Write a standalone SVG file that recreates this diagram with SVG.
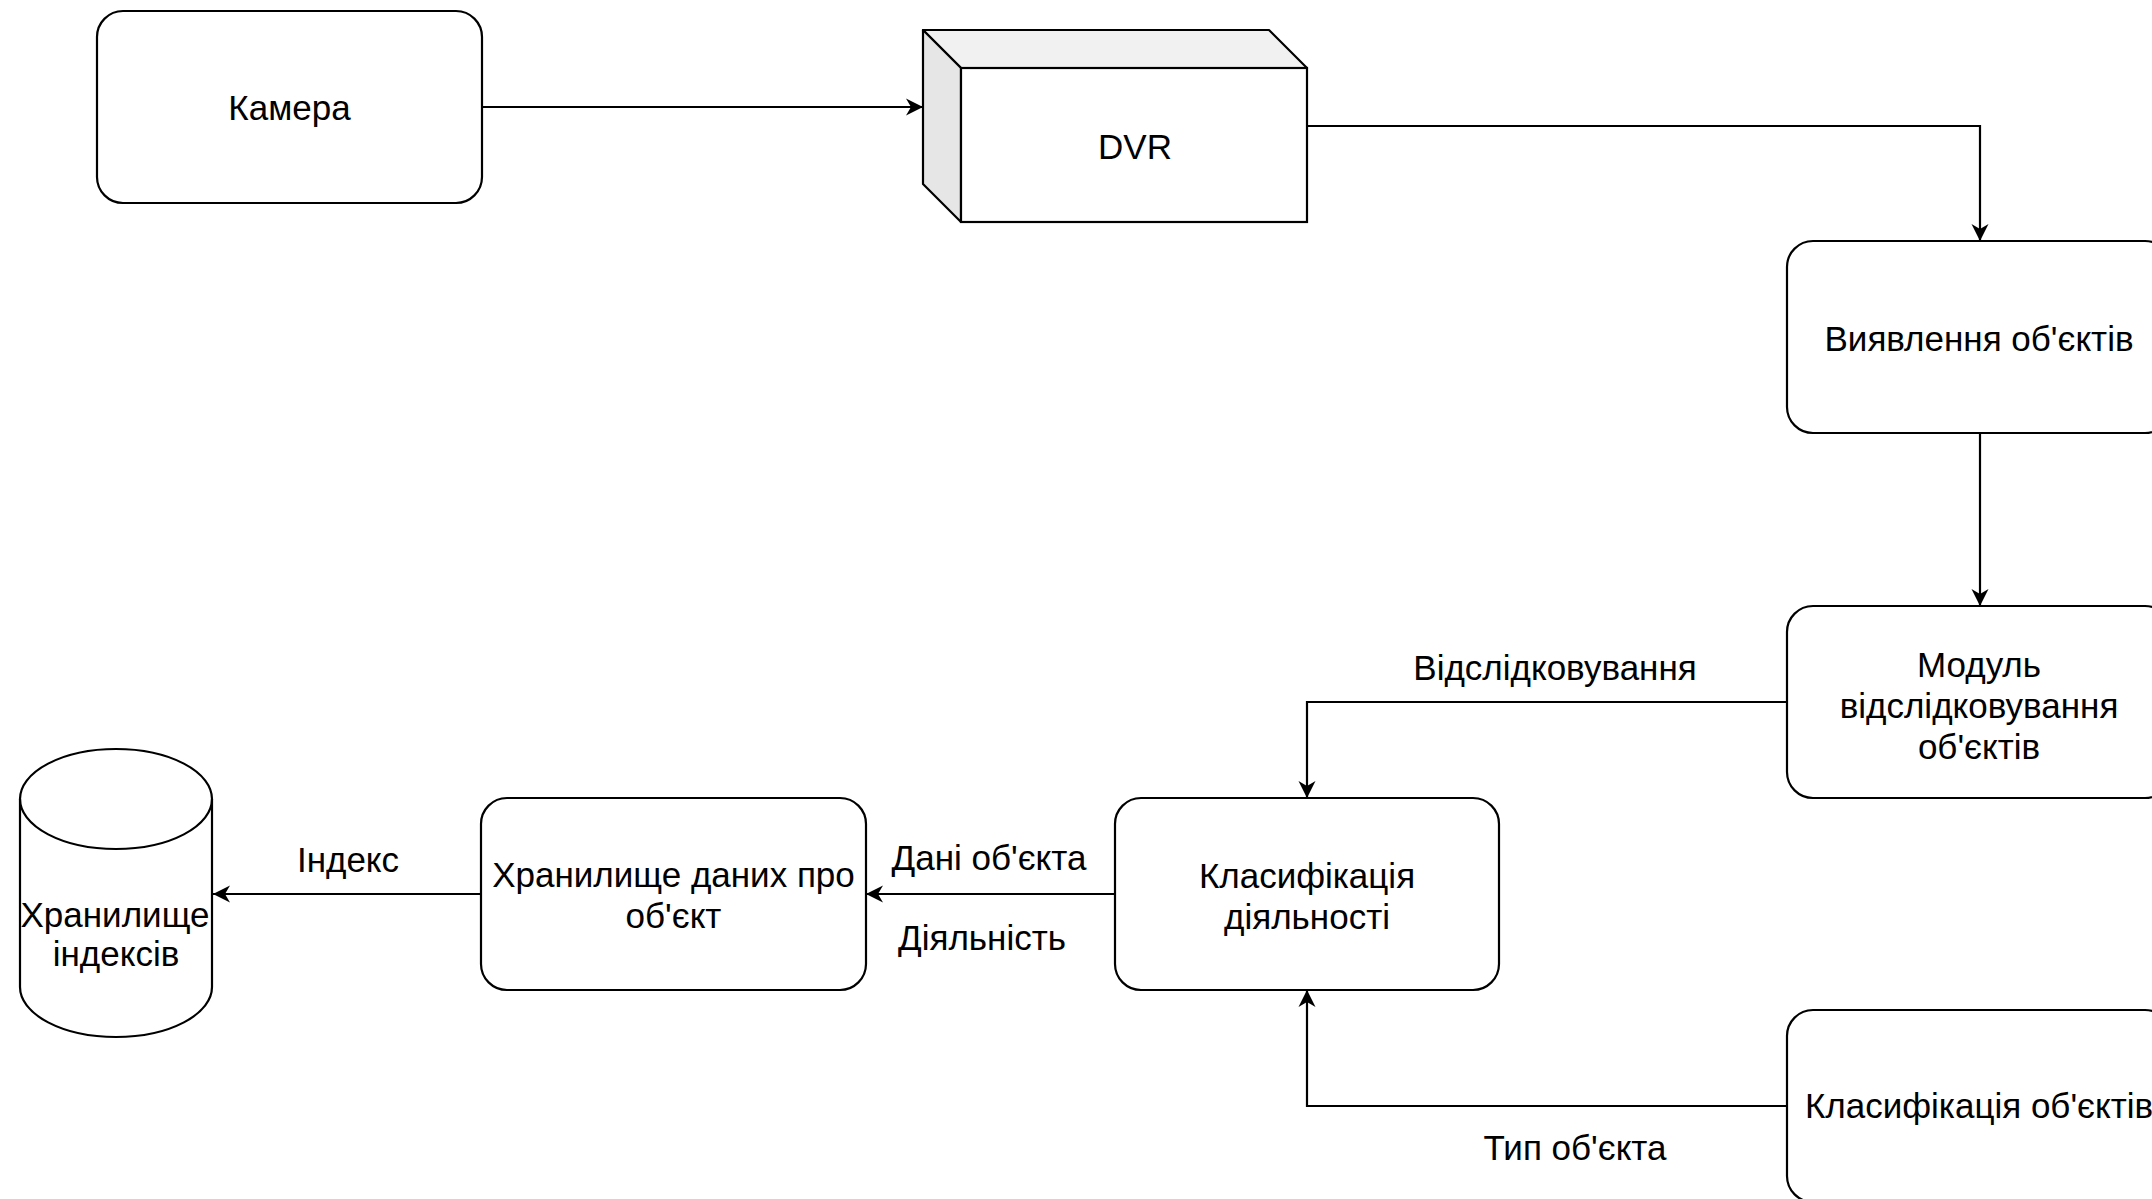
<svg xmlns="http://www.w3.org/2000/svg" width="2152" height="1199" viewBox="0 0 2152 1199">
<style>
  .box { fill: #ffffff; stroke: #000000; stroke-width: 2.2; }
  .t { font-family: "Liberation Sans", Arial, Helvetica, sans-serif; font-size: 35px; fill: #000000; text-anchor: middle; }
  .edge { fill: none; stroke: #000000; stroke-width: 2.2; marker-end: url(#arrow); }
</style>
<defs>
  <marker id="arrow" markerUnits="userSpaceOnUse" viewBox="0 0 18 18" refX="17" refY="9" markerWidth="18" markerHeight="18" orient="auto">
    <path d="M17 9 L0 0.5 L5 9 L0 17.5 Z" fill="#000000"/>
  </marker>
</defs>
<rect width="2152" height="1199" fill="#ffffff"/>

<g id="connectors">
  <path class="edge" d="M482 107 H923"/>
  <path class="edge" d="M1307 126 H1980 V241"/>
  <path class="edge" d="M1980 433 V606"/>
  <path class="edge" d="M1787 702 H1307 V798"/>
  <path class="edge" d="M1115 894 H866"/>
  <path class="edge" d="M481 894 H213"/>
  <path class="edge" d="M1787 1106 H1307 V990"/>
  <text class="t" x="1555" y="680">Відслідковування</text>
  <text class="t" x="989" y="870">Дані об'єкта</text>
  <text class="t" x="982" y="950">Діяльність</text>
  <text class="t" x="348" y="872">Індекс</text>
  <text class="t" x="1575" y="1160">Тип об'єкта</text>
</g>

<g id="camera">
  <rect class="box" x="97" y="11" width="385" height="192" rx="26" ry="26"/>
  <text class="t" x="289.5" y="120">Камера</text>
</g>

<g id="dvr">
  <polygon points="923,30 1269,30 1307,68 961,68" fill="#f1f1f1" stroke="#000000" stroke-width="2.2" stroke-linejoin="round"/>
  <polygon points="923,30 961,68 961,222 923,184" fill="#e6e6e6" stroke="#000000" stroke-width="2.2" stroke-linejoin="round"/>
  <rect x="961" y="68" width="346" height="154" fill="#ffffff" stroke="#000000" stroke-width="2.2"/>
  <text class="t" x="1135" y="159">DVR</text>
</g>

<g id="detection">
  <rect class="box" x="1787" y="241" width="384" height="192" rx="26" ry="26"/>
  <text class="t" x="1979" y="351">Виявлення об'єктів</text>
</g>

<g id="tracking">
  <rect class="box" x="1787" y="606" width="384" height="192" rx="26" ry="26"/>
  <text class="t" x="1979" y="677">Модуль</text>
  <text class="t" x="1979" y="718">відслідковування</text>
  <text class="t" x="1979" y="759">об'єктів</text>
</g>

<g id="activity">
  <rect class="box" x="1115" y="798" width="384" height="192" rx="26" ry="26"/>
  <text class="t" x="1307" y="888">Класифікація</text>
  <text class="t" x="1307" y="929">діяльності</text>
</g>

<g id="objstore">
  <rect class="box" x="481" y="798" width="385" height="192" rx="26" ry="26"/>
  <text class="t" x="673.5" y="887">Хранилище даних про</text>
  <text class="t" x="673.5" y="928">об'єкт</text>
</g>

<g id="indexstore">
  <path class="box" d="M20 799 A96 50 0 0 1 212 799 V987 A96 50 0 0 1 20 987 Z"/>
  <path d="M20 799 A96 50 0 0 0 212 799" fill="none" stroke="#000000" stroke-width="2.2"/>
  <text class="t" x="115" y="927">Хранилище</text>
  <text class="t" x="116" y="966">індексів</text>
</g>

<g id="objclass">
  <rect class="box" x="1787" y="1010" width="384" height="192" rx="26" ry="26"/>
  <text class="t" x="1979" y="1118">Класифікація об'єктів</text>
</g>
</svg>
